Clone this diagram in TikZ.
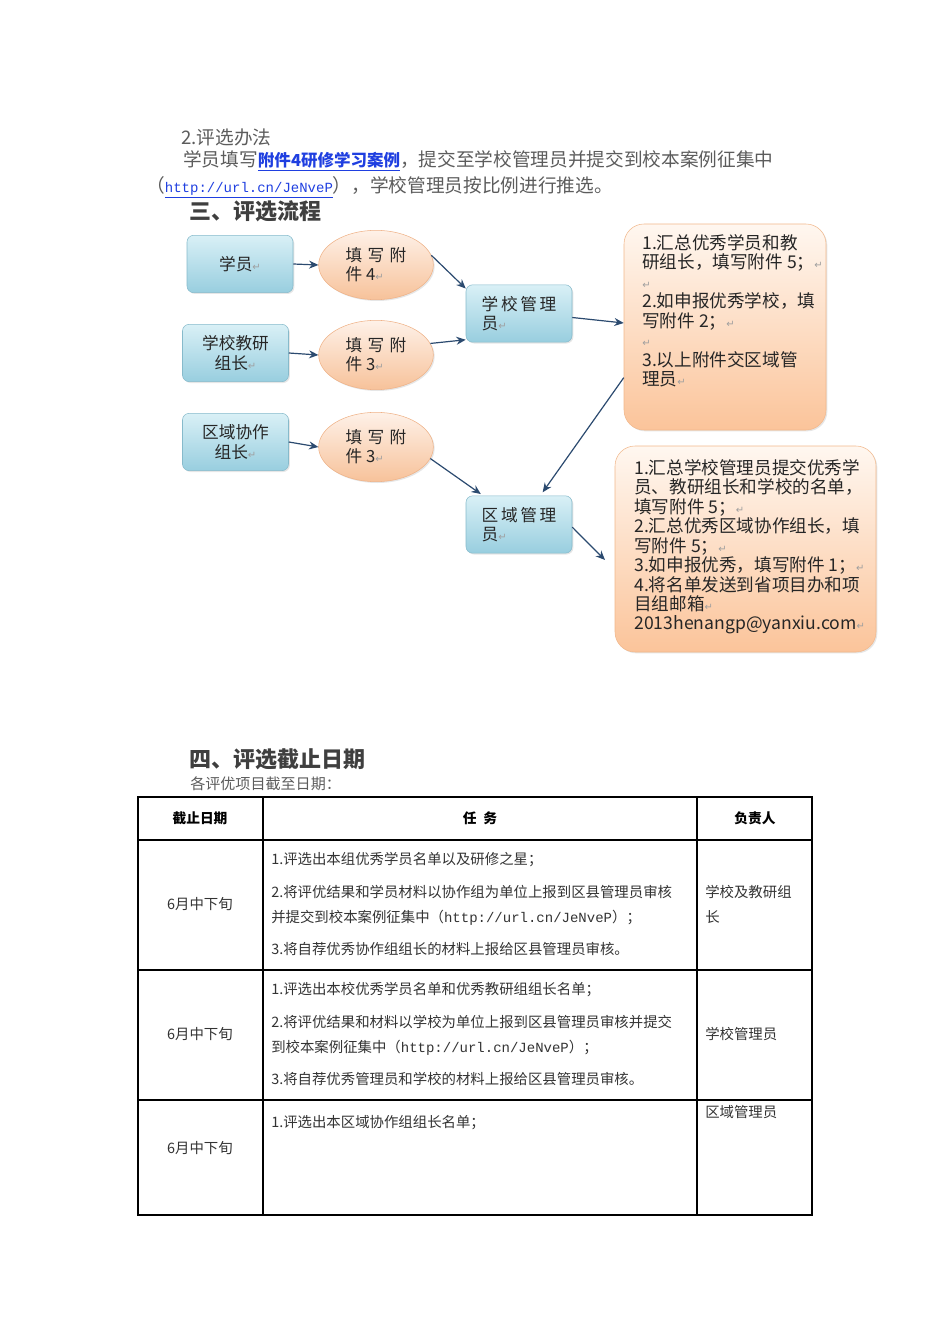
\documentclass[tikz,border=0pt]{standalone}
\usepackage{fontspec}
\setmainfont{Noto Sans CJK SC}
\newfontfamily\monof{Liberation Mono}
\newfontfamily\symf{DejaVu Sans}
\usepackage{xcolor}
\usetikzlibrary{shapes.geometric, arrows.meta, positioning, shadows}

\definecolor{blueTop}{HTML}{D9F0F6}
\definecolor{blueBot}{HTML}{98CEDF}
\definecolor{blueLine}{HTML}{86BACB}
\definecolor{ovalTop}{HTML}{FEF1E8}
\definecolor{ovalBot}{HTML}{F7C29A}
\definecolor{ovalLine}{HTML}{EFB287}
\definecolor{noteTop}{HTML}{FFF7F0}
\definecolor{noteBot}{HTML}{FBC49A}
\definecolor{noteLine}{HTML}{F1B88C}
\definecolor{arrowNavy}{HTML}{2B4A6F}
\definecolor{bodyGray}{HTML}{5C5C5C}
\definecolor{headGray}{HTML}{3F3F3F}
\definecolor{cellGray}{HTML}{333333}
\definecolor{linkBlue}{HTML}{1F3FE0}

\newcommand{\pmark}{{\symf\color{gray!75}\fontsize{7.5}{8}\selectfont ↵}}
\newcommand{\diagfont}{\fontsize{12.5}{14.5}\selectfont\color{black!85}}
\newcommand{\notefont}{\fontsize{13.2}{14.6}\selectfont\color{black!85}}
\newcommand{\cellfont}{\fontsize{10.8}{12}\selectfont\color{cellGray}}

\tikzset{
  roleBox/.style={draw=blueLine, rounded corners=5pt, top color=blueTop, bottom color=blueBot,
    minimum width=79.5pt, minimum height=43pt, align=center, font=\diagfont,
    drop shadow={opacity=0.2, shadow xshift=1pt, shadow yshift=-1pt}},
  formOval/.style={ellipse, draw=ovalLine, top color=ovalTop, bottom color=ovalBot,
    minimum width=86pt, minimum height=52pt, align=left, font=\diagfont,
    drop shadow={opacity=0.2, shadow xshift=1pt, shadow yshift=-1pt}},
  noteBox/.style={draw=noteLine, rounded corners=15pt, top color=noteTop, bottom color=noteBot,
    drop shadow={opacity=0.2, shadow xshift=1pt, shadow yshift=-1pt}},
  flow/.style={draw=arrowNavy, line width=0.9pt, -{Stealth[length=7pt,width=6pt]}},
  bodyText/.style={anchor=west, inner sep=0pt, font=\fontsize{14}{16}\selectfont\color{bodyGray}},
  sectionHead/.style={anchor=west, inner sep=0pt, font=\fontsize{16.5}{18}\selectfont\bfseries\color{headGray}},
  headCell/.style={inner sep=0pt, font=\fontsize{10.3}{12}\selectfont\bfseries\color{black}},
  taskLine/.style={anchor=west, inner sep=0pt, font=\cellfont},
  tableRule/.style={line width=1.2pt, black}
}

\begin{document}
\begin{tikzpicture}[x=0.75pt, y=-0.75pt]
\useasboundingbox (0,0) rectangle (950,1344);

% text above the chart
\node[bodyText] (methodTitle) at (181,137) {2.评选办法};
\node[bodyText] (methodLine) at (183,161) {学员填写{\color{linkBlue}\fontsize{12.4}{14}\selectfont\bfseries\underline{附件4研修学习案例}}，提交至学校管理员并提交到校本案例征集中};
\node[bodyText] (urlLine) at (146,187) {（{\color{linkBlue}\monof\fontsize{10.5}{12}\selectfont\underline{http://url.cn/JeNveP}}），学校管理员按比例进行推选。};
\node[sectionHead] (flowHead) at (189,211) {三、评选流程};

% chart
\node[roleBox] (xueyuan) at (240,264) {学员\pmark};
\node[roleBox] (jiaoyan) at (235.5,353) {学校教研\\组长\pmark};
\node[roleBox] (xiezuo) at (235.5,442) {区域协作\\组长\pmark};
\node[formOval] (fjFour) at (376,265) {填\hspace{4pt}写\hspace{4pt}附\\件 4\pmark};
\node[formOval] (fjThreeA) at (376,355) {填\hspace{4pt}写\hspace{4pt}附\\件 3\pmark};
\node[formOval] (fjThreeB) at (376,447) {填\hspace{4pt}写\hspace{4pt}附\\件 3\pmark};
\node[roleBox, align=left] (schoolAdmin) at (519,313.5) {学\hspace{2pt}校\hspace{2pt}管\hspace{2pt}理\\员\pmark};
\node[roleBox, align=left] (areaAdmin) at (519,524.5) {区\hspace{2pt}域\hspace{2pt}管\hspace{2pt}理\\员\pmark};
\node[noteBox, minimum width=151.5pt, minimum height=154.5pt] (sumA) at (725,327) {};
\node[noteBox, minimum width=195.75pt, minimum height=154.5pt] (sumB) at (745.5,549) {};
\node[anchor=north west, inner sep=0pt, align=left, font=\notefont] (sumAText) at (642,234)
  {1.汇总优秀学员和教\\研组长，填写附件 5；\pmark\\\pmark\\2.如申报优秀学校，填\\写附件 2；\pmark\\\pmark\\3.以上附件交区域管\\理员\pmark};
\node[anchor=north west, inner sep=0pt, align=left, font=\notefont] (sumBText) at (634,459)
  {1.汇总学校管理员提交优秀学\\员、教研组长和学校的名单，\\填写附件 5；\pmark\\2.汇总优秀区域协作组长，填\\写附件 5；\pmark\\3.如申报优秀，填写附件 1；\pmark\\4.将名单发送到省项目办和项\\目组邮箱\pmark\\2013henangp@yanxiu.com\pmark};

\draw[flow] (xueyuan.east) -- (fjFour.west);
\draw[flow] (jiaoyan.east) -- (fjThreeA.west);
\draw[flow] (xiezuo.east) -- (fjThreeB.west);
\draw[flow] (fjFour.10) -- ([yshift=-3pt]schoolAdmin.north west);
\draw[flow] (fjThreeA.12) -- ([yshift=2pt]schoolAdmin.south west);
\draw[flow] ([yshift=-3pt]schoolAdmin.east) -- ([yshift=3pt]sumA.west);
\draw[flow, shorten >=3pt] ([yshift=-38pt]sumA.west) -- ([xshift=16pt]areaAdmin.north);
\draw[flow, shorten >=2pt] (fjThreeB.-12) -- ([xshift=-27pt]areaAdmin.north);
\coordinate (sumBIn) at (605,560);
\draw[flow] ([yshift=-2pt]areaAdmin.east) -- (sumBIn);

% deadlines
\node[sectionHead] (dateHead) at (189,759) {四、评选截止日期};
\node[bodyText, font=\fontsize{11.3}{13}\selectfont\color{bodyGray}] (dateIntro) at (190,784) {各评优项目截至日期：};

\draw[tableRule] (138,797) rectangle (812,1215);
\draw[tableRule] (263,797) -- (263,1215);
\draw[tableRule] (697,797) -- (697,1215);
\draw[tableRule] (138,840) -- (812,840);
\draw[tableRule] (138,970) -- (812,970);
\draw[tableRule] (138,1100) -- (812,1100);

\node[headCell] (hDate) at (200,818) {截止日期};
\node[headCell] (hTask) at (480,818) {任\hspace{5pt}务};
\node[headCell] (hOwner) at (755,818) {负责人};

\node[font=\cellfont] (dateOne) at (200,904) {6月中下旬};
\node[taskLine] (taskOneA) at (271,860) {1.评选出本组优秀学员名单以及研修之星；};
\node[taskLine] (taskOneB) at (271,892) {2.将评优结果和学员材料以协作组为单位上报到区县管理员审核};
\node[taskLine] (taskOneC) at (271,918) {并提交到校本案例征集中（{\monof\fontsize{10.5}{12}\selectfont http://url.cn/JeNveP}）；};
\node[taskLine] (taskOneD) at (271,949) {3.将自荐优秀协作组组长的材料上报给区县管理员审核。};
\node[taskLine, align=left, font=\fontsize{10.8}{19}\selectfont\color{cellGray}] (ownerOne) at (705,904.5) {学校及教研组\\长};

\node[font=\cellfont] (dateTwo) at (200,1034) {6月中下旬};
\node[taskLine] (taskTwoA) at (271,990) {1.评选出本校优秀学员名单和优秀教研组组长名单；};
\node[taskLine] (taskTwoB) at (271,1022) {2.将评优结果和材料以学校为单位上报到区县管理员审核并提交};
\node[taskLine] (taskTwoC) at (271,1048) {到校本案例征集中（{\monof\fontsize{10.5}{12}\selectfont http://url.cn/JeNveP}）；};
\node[taskLine] (taskTwoD) at (271,1079) {3.将自荐优秀管理员和学校的材料上报给区县管理员审核。};
\node[taskLine] (ownerTwo) at (705,1034) {学校管理员};

\node[font=\cellfont] (dateThree) at (200,1148) {6月中下旬};
\node[taskLine] (taskThreeA) at (271,1123) {1.评选出本区域协作组组长名单；};
\node[taskLine] (ownerThree) at (705,1112) {区域管理员};
\end{tikzpicture}
\end{document}
